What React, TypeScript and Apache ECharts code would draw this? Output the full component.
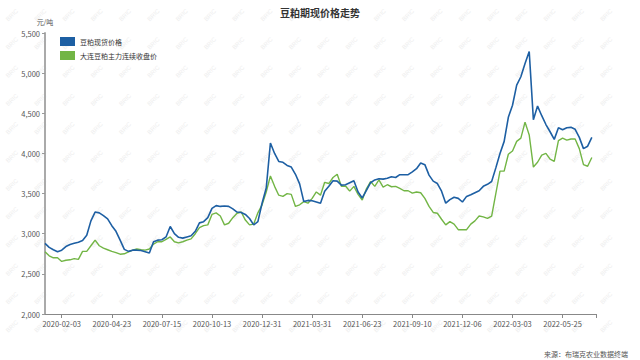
import React, { useEffect, useRef } from 'react';
import * as echarts from 'echarts';

const titleText = '豆粕期现价格走势';
const unitText = '元/吨';
const sourceText = '来源：布瑞克农业数据终端';
const seriesNames = ['豆粕现货价格', '大连豆粕主力连续收盘价'];

// x positions are sample indices (roughly one per trading week)
const tickIndex = [4, 16, 28, 40, 52, 64, 76, 88, 100, 112, 124];
const tickLabels = [
  '2020-02-03', '2020-04-23', '2020-07-15', '2020-10-13', '2020-12-31',
  '2021-03-31', '2021-06-23', '2021-09-10', '2021-12-06', '2022-03-03', '2022-05-25',
];
const xMax = 132;

const yMin = 2000;
const yMax = 5500;
const yStep = 500;

const spotPrice = [
  2880, 2830, 2800, 2775, 2795, 2840, 2865, 2880, 2895, 2915,
  2980, 3160, 3270, 3260, 3225, 3185, 3100, 3030, 2920, 2805,
  2780, 2795, 2795, 2790, 2775, 2760, 2900, 2920, 2925, 2960,
  3090, 3000, 2955, 2945, 2960, 2975, 3030, 3135, 3150, 3200,
  3315, 3350, 3340, 3345, 3340, 3310, 3270, 3265, 3240, 3190,
  3110, 3150, 3380, 3570, 4130, 4000, 3900, 3890, 3850, 3830,
  3740, 3620, 3400, 3415, 3410, 3395, 3380, 3530, 3590, 3660,
  3655, 3605, 3610, 3635, 3660, 3520, 3445, 3540, 3635, 3670,
  3685, 3680, 3690, 3710, 3700, 3735, 3735, 3735, 3770, 3810,
  3880, 3860, 3730, 3655, 3625, 3530, 3380, 3425, 3455, 3440,
  3395, 3465, 3485, 3510, 3535, 3590, 3615, 3650, 3820, 4000,
  4150, 4450, 4600, 4850, 4955, 5120, 5270, 4420, 4590, 4470,
  4360, 4270, 4175, 4320, 4295, 4320, 4325, 4300, 4200, 4060,
  4090, 4200,
];

const futuresPrice = [
  2775, 2725, 2700, 2700, 2655, 2670, 2675, 2690, 2680, 2780,
  2780, 2850, 2920, 2850, 2820, 2800, 2780, 2765, 2745, 2750,
  2775, 2795, 2810, 2800, 2795, 2810, 2870, 2900, 2900, 2930,
  2960, 2900, 2885, 2900, 2920, 2935, 3000, 3075, 3100, 3110,
  3240, 3260, 3220, 3110, 3130, 3200, 3255, 3270, 3170, 3110,
  3120, 3260, 3360, 3520, 3720, 3590, 3480, 3465, 3500, 3490,
  3340, 3360, 3400, 3380, 3440, 3520, 3480, 3640, 3625, 3700,
  3740, 3590, 3595, 3530, 3590, 3490, 3420, 3560, 3650, 3590,
  3670, 3580, 3610, 3585, 3590, 3565, 3535, 3535, 3505, 3520,
  3510, 3440, 3340, 3265, 3255, 3180, 3110, 3150, 3120, 3050,
  3050, 3050, 3120, 3160, 3220, 3210, 3190, 3220, 3500, 3780,
  3780, 3990, 4030, 4150, 4190, 4390, 4230, 3830, 3890, 3980,
  4000, 3930, 3900, 4160, 4190, 4165, 4180, 4180, 4060, 3860,
  3840, 3950,
];

const colors = ['#1d5fa3', '#72b545'];
const fontFamily = '"Microsoft YaHei", "Noto Sans CJK SC", "Noto Sans", sans-serif';

export default function App() {
  const ref = useRef<HTMLDivElement>(null);

  useEffect(() => {
    document.body.style.margin = '0';
    if (!ref.current) return;
    const chart = echarts.init(ref.current, null, { renderer: 'svg' });

    const labelMap: Record<number, string> = {};
    tickIndex.forEach((idx, k) => {
      labelMap[idx] = tickLabels[k];
    });

    const watermarks: any[] = [];
    for (let r = 0; r < 12; r++) {
      for (let c = 0; c < 22; c++) {
        watermarks.push({
          type: 'text',
          x: 12 + c * 28.3,
          y: 15 + r * 28.3,
          rotation: Math.PI / 4,
          silent: true,
          z: -10,
          style: {
            text: 'BRIC',
            fill: '#eeeeee',
            fontSize: 6,
            fontFamily: 'sans-serif',
            align: 'center',
            verticalAlign: 'middle',
          },
        });
      }
    }

    chart.setOption({
      animation: false,
      backgroundColor: '#ffffff',
      textStyle: { fontFamily },
      title: {
        text: titleText,
        left: 'center',
        top: 2,
        textStyle: { fontSize: 10, fontWeight: 'bold', color: '#333', fontFamily },
      },
      legend: {
        orient: 'vertical',
        left: 55,
        top: 32,
        itemWidth: 15,
        itemHeight: 9,
        itemGap: 5,
        icon: 'rect',
        textStyle: { fontSize: 7, color: '#333', fontFamily },
        data: seriesNames,
      },
      grid: { left: 45, right: 44, top: 33, bottom: 46 },
      xAxis: {
        type: 'value',
        min: 0,
        max: xMax,
        splitLine: { show: false },
        axisLine: { show: true, lineStyle: { color: '#888', width: 1 } },
        axisTick: {
          show: true,
          length: 4,
          lineStyle: { color: '#888' },
          customValues: [...tickIndex, xMax],
        },
        axisLabel: {
          customValues: tickIndex,
          formatter: (v: number) => labelMap[v] ?? '',
          fontSize: 7.5,
          color: '#555',
          margin: 6,
          fontFamily,
        },
      },
      yAxis: {
        type: 'value',
        min: yMin,
        max: yMax,
        interval: yStep,
        name: unitText,
        nameGap: 8,
        nameTextStyle: { fontSize: 7, color: '#555', fontFamily },
        splitLine: { show: false },
        axisLine: { show: true, lineStyle: { color: '#aaa', width: 2 } },
        axisTick: { show: true, length: 3, lineStyle: { color: '#999' } },
        axisLabel: {
          fontSize: 7.5,
          color: '#555',
          margin: 5,
          fontFamily,
          formatter: (v: number) => v.toLocaleString('en-US'),
        },
      },
      graphic: [
        ...watermarks,
        {
          type: 'text',
          right: 12,
          bottom: 3,
          silent: true,
          style: { text: sourceText, fill: '#555', fontSize: 7, fontFamily },
        },
      ],
      series: [
        {
          name: seriesNames[0],
          type: 'line',
          data: spotPrice.map((v, i) => [i, v]),
          showSymbol: false,
          color: colors[0],
          lineStyle: { width: 1.6, color: colors[0] },
          z: 3,
        },
        {
          name: seriesNames[1],
          type: 'line',
          data: futuresPrice.map((v, i) => [i, v]),
          showSymbol: false,
          color: colors[1],
          lineStyle: { width: 1.4, color: colors[1] },
          z: 2,
        },
      ],
    });

    return () => chart.dispose();
  }, []);

  return <div ref={ref} style={{ width: 640, height: 360 }} />;
}
